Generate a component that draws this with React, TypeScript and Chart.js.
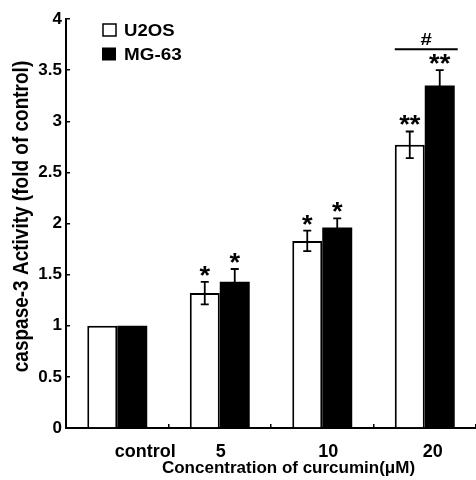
import { useEffect, useRef } from "react";
import { Chart, registerables } from "chart.js";

Chart.register(...registerables);

const categories = ["control", "5", "10", "20"];
const seriesNames = ["U2OS", "MG-63"];
const u2osMeans = [1.0, 1.32, 1.83, 2.77];
const u2osErrors = [0, 0.11, 0.1, 0.13];
const mg63Means = [1.0, 1.43, 1.96, 3.35];
const mg63Errors = [0, 0.125, 0.09, 0.15];
const u2osMarks = ["", "*", "*", "**"];
const mg63Marks = ["", "*", "*", "**"];
const groupMark = "#";
const groupMarkIndex = 3;
const yMin = 0;
const yMax = 4;
const yStep = 0.5;
const xTitle = "Concentration of curcumin(μM)";
const yTitle = "caspase-3 Activity (fold of control)";

const FONT = '"Liberation Sans", Arial, Helvetica, sans-serif';
const labelNudge = [28, 1, 6, 8];

function drawText(
  ctx: CanvasRenderingContext2D,
  text: string,
  x: number,
  y: number,
  font: string,
  align: CanvasTextAlign,
  sx: number,
  rotate = 0
) {
  ctx.save();
  ctx.translate(x, y);
  if (rotate) ctx.rotate(rotate);
  if (rotate) ctx.scale(1, sx);
  else ctx.scale(sx, 1);
  ctx.font = font;
  ctx.textAlign = align;
  ctx.textBaseline = "alphabetic";
  ctx.fillStyle = "#000";
  ctx.fillText(text, 0, 0);
  ctx.restore();
}

const overlayPlugin = {
  id: "overlay",
  afterDatasetsDraw(chart: any) {
    const { ctx, chartArea, scales } = chart;
    const y = scales.y;
    const x = scales.x;
    const errs = [u2osErrors, mg63Errors];
    const means = [u2osMeans, mg63Means];
    const marks = [u2osMarks, mg63Marks];
    ctx.save();
    ctx.strokeStyle = "#000";
    ctx.lineWidth = 1.8;
    for (let d = 0; d < 2; d++) {
      const meta = chart.getDatasetMeta(d);
      meta.data.forEach((bar: any, i: number) => {
        const e = errs[d][i];
        const m = means[d][i];
        const top = y.getPixelForValue(m + e);
        if (e > 0) {
          const bot = y.getPixelForValue(m - e);
          ctx.beginPath();
          ctx.moveTo(bar.x, top);
          ctx.lineTo(bar.x, bot);
          ctx.moveTo(bar.x - 4, top);
          ctx.lineTo(bar.x + 4, top);
          ctx.moveTo(bar.x - 4, bot);
          ctx.lineTo(bar.x + 4, bot);
          ctx.stroke();
        }
        if (marks[d][i]) {
          drawText(ctx, marks[d][i], bar.x, top + 2, `bold 26px ${FONT}`, "center", 1.05);
        }
      });
    }

    // group bracket
    const b0 = chart.getDatasetMeta(0).data[groupMarkIndex];
    const b1 = chart.getDatasetMeta(1).data[groupMarkIndex];
    const left = b0.x - b0.width / 2;
    const right = b1.x + b1.width / 2 + 3;
    const lineY = y.getPixelForValue(mg63Means[groupMarkIndex] + mg63Errors[groupMarkIndex]) - 21;
    ctx.lineWidth = 2;
    ctx.beginPath();
    ctx.moveTo(left, lineY);
    ctx.lineTo(right, lineY);
    ctx.stroke();
    drawText(ctx, groupMark, (left + right) / 2, lineY - 4, `bold 17px ${FONT}`, "center", 1.2);

    // legend
    const lx = chartArea.left + 37;
    const ly = chartArea.top + 5;
    ctx.lineWidth = 1.5;
    ctx.fillStyle = "#fff";
    ctx.fillRect(lx, ly, 13, 12);
    ctx.strokeRect(lx, ly, 13, 12);
    ctx.fillStyle = "#000";
    ctx.fillRect(lx - 1, ly + 23.5, 14, 13);
    drawText(ctx, seriesNames[0], lx + 21, ly + 11.5, `bold 16px ${FONT}`, "left", 1.16);
    drawText(ctx, seriesNames[1], lx + 21, ly + 36, `bold 16px ${FONT}`, "left", 1.18);

    // x tick labels
    categories.forEach((c, i) => {
      drawText(ctx, c, x.getPixelForValue(i) + labelNudge[i], chartArea.bottom + 28.5, `bold 18px ${FONT}`, "center", 1);
    });

    // x title
    drawText(ctx, xTitle, (chartArea.left + chartArea.right) / 2 + 17.5, chartArea.bottom + 45, `bold 17px ${FONT}`, "center", 1);

    // y title
    drawText(ctx, yTitle, 28, (chartArea.top + chartArea.bottom) / 2 - 7, `bold 19px ${FONT}`, "center", 1.15, -Math.PI / 2);
    ctx.restore();
  },
};

export default function App() {
  const ref = useRef<HTMLCanvasElement | null>(null);
  useEffect(() => {
    const canvas = ref.current;
    if (!canvas) return;
    const chart = new Chart(canvas, {
      type: "bar",
      data: {
        labels: categories,
        datasets: [
          {
            label: seriesNames[0],
            data: u2osMeans,
            backgroundColor: "#ffffff",
            borderColor: "#000000",
            borderWidth: 2,
            categoryPercentage: 0.585,
            barPercentage: 1,
          },
          {
            label: seriesNames[1],
            data: mg63Means,
            backgroundColor: "#000000",
            borderColor: "#000000",
            borderWidth: 0,
            categoryPercentage: 0.585,
            barPercentage: 1,
          },
        ],
      },
      options: {
        responsive: false,
        animation: false,
        devicePixelRatio: 1,
        layout: { padding: { top: 19, left: 0, right: 0, bottom: 0 } },
        plugins: {
          legend: { display: false },
          title: { display: false },
          tooltip: { enabled: false },
        },
        scales: {
          x: {
            offset: true,
            ticks: { display: false },
            grid: {
              drawOnChartArea: false,
              drawTicks: true,
              tickLength: -4,
              color: "#000",
              lineWidth: 1.5,
            },
            border: { color: "#000", width: 2 },
            afterFit: (s: any) => {
              s.height = 52;
            },
          },
          y: {
            min: yMin,
            max: yMax,
            ticks: {
              stepSize: yStep,
              color: "#000",
              font: { family: FONT, size: 17, weight: "bold" },
              padding: 8,
              callback: (v: any) => String(Number(v)),
            },
            grid: {
              drawOnChartArea: false,
              drawTicks: true,
              tickLength: -4,
              color: "#000",
              lineWidth: 1.5,
            },
            border: { color: "#000", width: 2 },
            afterFit: (s: any) => {
              s.width = 66;
            },
          },
        },
      },
      plugins: [overlayPlugin],
    });
    return () => chart.destroy();
  }, []);
  return (
    <div style={{ position: "absolute", left: 0, top: 0, width: 476, height: 480, background: "#fff" }}>
      <canvas ref={ref} width={476} height={480} style={{ width: 476, height: 480, display: "block" }} />
    </div>
  );
}
